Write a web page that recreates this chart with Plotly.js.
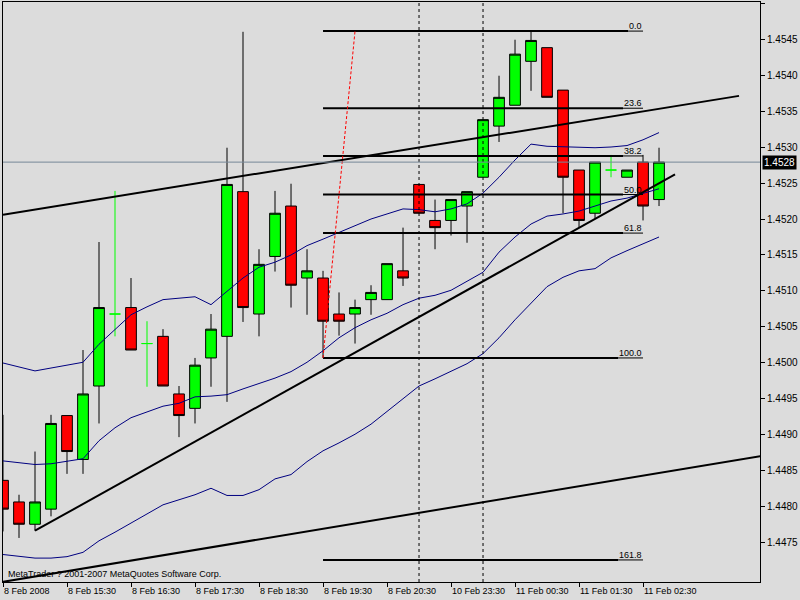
<!DOCTYPE html>
<html><head><meta charset="utf-8">
<script src="https://cdn.plot.ly/plotly-3.0.1.min.js"></script>
<style>html,body{margin:0;padding:0;background:#dcdcdc;}#chart{width:800px;height:600px;}</style>
</head><body><div id="chart"></div>
<script>
// ---- Candle data (M15), index = bar number ----
const opens  = [1.44837,1.44807,1.44776,1.44797,1.44927,1.44866,1.44968,1.45068,1.45077,1.45027,
                1.45037,1.44957,1.44937,1.45007,1.45037,1.45238,1.45068,1.45148,1.45218,1.45118,
                1.45118,1.45068,1.45068,1.45088,1.45088,1.45128,1.45248,1.45198,1.45198,1.45218,
                1.45258,1.45329,1.45358,1.45419,1.45438,1.45379,1.45268,1.45208,1.45268,1.45258,
                1.45279,1.45227];
const highs  = [1.44928,1.44817,1.44877,1.44928,1.44927,1.45018,1.45168,1.45239,1.45118,1.45058,
                1.45047,1.44968,1.45007,1.45068,1.45299,1.45460,1.45158,1.45239,1.45249,1.45158,
                1.45128,1.45098,1.45088,1.45108,1.45138,1.45188,1.45248,1.45227,1.45227,1.45238,
                1.45338,1.45399,1.45449,1.45461,1.45438,1.45379,1.45268,1.45279,1.45289,1.45268,
                1.45289,1.45299];
const lows   = [1.44766,1.44757,1.44767,1.44787,1.44846,1.44846,1.44916,1.45037,1.45018,1.44967,
                1.44968,1.44897,1.44916,1.44967,1.44946,1.45057,1.45037,1.45127,1.45077,1.45067,
                1.45007,1.45038,1.45027,1.45067,1.45088,1.45107,1.45208,1.45158,1.45177,1.45167,
                1.45258,1.45307,1.45358,1.45378,1.45369,1.45208,1.45188,1.45201,1.45258,1.45258,
                1.45198,1.45218];
const closes = [1.44797,1.44776,1.44807,1.44916,1.44877,1.44957,1.45077,1.45068,1.45018,1.45027,
                1.44968,1.44927,1.44997,1.45047,1.45248,1.45077,1.45137,1.45208,1.45108,1.45128,
                1.45058,1.45058,1.45077,1.45098,1.45138,1.45118,1.45208,1.45188,1.45227,1.45238,
                1.45338,1.45369,1.45429,1.45448,1.45369,1.45258,1.45198,1.45279,1.45268,1.45268,
                1.45218,1.45279];

// ---- Bollinger Bands ----
const bbUpper = [1.45000,1.44994,1.44989,1.44993,1.44997,1.45001,1.45026,1.45047,1.45067,1.45078,
                 1.45088,1.45090,1.45092,1.45081,1.45099,1.45118,1.45133,1.45140,1.45150,1.45163,
                 1.45172,1.45181,1.45190,1.45200,1.45207,1.45214,1.45213,1.45210,1.45214,1.45221,
                 1.45236,1.45258,1.45282,1.45304,1.45301,1.45300,1.45300,1.45299,1.45300,1.45302,
                 1.45310,1.45320];
const bbMiddle = [1.44864,1.44861,1.44859,1.44860,1.44863,1.44867,1.44892,1.44910,1.44924,1.44932,
                  1.44940,1.44944,1.44953,1.44954,1.44956,1.44964,1.44971,1.44979,1.44988,1.45001,
                  1.45017,1.45035,1.45049,1.45060,1.45069,1.45081,1.45090,1.45094,1.45101,1.45113,
                  1.45126,1.45154,1.45175,1.45193,1.45204,1.45207,1.45211,1.45218,1.45225,1.45229,
                  1.45236,1.45242];
const bbLower = [1.44734,1.44731,1.44729,1.44729,1.44731,1.44737,1.44753,1.44765,1.44778,1.44790,
                 1.44803,1.44810,1.44817,1.44826,1.44816,1.44816,1.44824,1.44839,1.44845,1.44863,
                 1.44878,1.44889,1.44901,1.44915,1.44933,1.44951,1.44968,1.44978,1.44988,1.44999,
                 1.45013,1.45035,1.45060,1.45083,1.45106,1.45119,1.45128,1.45131,1.45146,1.45156,
                 1.45165,1.45175];

// ---- Axis ticks ----
const xTickIdx  = [0,4,8,12,16,20,24,28,32,36,40];
const xTickText = ["8 Feb 2008","8 Feb 15:30","8 Feb 16:30","8 Feb 17:30","8 Feb 18:30","8 Feb 19:30",
                   "8 Feb 20:30","10 Feb 23:30","11 Feb 00:30","11 Feb 01:30","11 Feb 02:30"];
const yTicks = [1.4475,1.4480,1.4485,1.4490,1.4495,1.4500,1.4505,1.4510,1.4515,1.4520,
                1.4525,1.4530,1.4535,1.4540,1.4545,1.4550];

// ---- Drawn objects ----
const separatorIdx = [26,30];
const fibLevels = [0.0,23.6,38.2,50.0,61.8,100.0,161.8];
const fibLowIdx = 20, fibHighIdx = 22, fibEndIdx = 40;
const fibHigh = highs[33], fibLow = lows[20];
const upperChannelIdx = [0,46],  upperChannelPrice = [1.45206,1.45371];
const supportIdx      = [2,42],  supportPrice      = [1.44767,1.45262];
const lowerChannelIdx = [0,48],  lowerChannelPrice = [1.44696,1.44873];
const copyright = "MetaTrader ? 2001-2007 MetaQuotes Software Corp.";

const N = closes.length;
const idx = Array.from({length:N},(_,i)=>i);
const isDoji = idx.map(i=>opens[i]===closes[i]);
const pick = (arr,want)=>idx.filter(i=>isDoji[i]===want).map(i=>arr[i]);

const traces = [
  {type:'scatter',mode:'lines',x:idx,y:bbUpper,line:{color:'#000080',width:1},hoverinfo:'skip'},
  {type:'scatter',mode:'lines',x:idx,y:bbMiddle,line:{color:'#000080',width:1},hoverinfo:'skip'},
  {type:'scatter',mode:'lines',x:idx,y:bbLower,line:{color:'#000080',width:1},hoverinfo:'skip'},
  {type:'candlestick',x:pick(idx,false),open:pick(opens,false),high:pick(highs,false),
   low:pick(lows,false),close:pick(closes,false),whiskerwidth:0,
   increasing:{fillcolor:'#00ff00',line:{color:'#000000',width:1}},
   decreasing:{fillcolor:'#ff0000',line:{color:'#000000',width:1}},hoverinfo:'skip'},
  {type:'candlestick',x:pick(idx,true),open:pick(opens,true),high:pick(highs,true),
   low:pick(lows,true),close:pick(closes,true),whiskerwidth:0,
   increasing:{fillcolor:'#00ff00',line:{color:'#00ff00',width:1}},
   decreasing:{fillcolor:'#00ff00',line:{color:'#00ff00',width:1}},hoverinfo:'skip'}
];

const shapes = [];
const annotations = [];
const fnt = {family:'Liberation Sans, Arial, sans-serif',size:9,color:'#000'};

// period separators
separatorIdx.forEach(s=>shapes.push({type:'line',xref:'x',yref:'paper',x0:s,x1:s,y0:0,y1:1,
  line:{color:'#000',width:1,dash:'3px,3px'},layer:'above'}));

// fibonacci
const lastPrice = closes[N-1];
fibLevels.forEach(L=>{
  const p = fibHigh-(fibHigh-fibLow)*L/100;
  const txt = L.toFixed(1);
  const thinIdx = (5*txt.length)/16;
  shapes.push({type:'line',xref:'x',yref:'y',x0:fibLowIdx,x1:fibEndIdx-thinIdx,y0:p,y1:p,
    line:{color:'#000',width:2},layer:'above'});
  shapes.push({type:'line',xref:'x',yref:'y',x0:fibEndIdx-thinIdx,x1:fibEndIdx,y0:p,y1:p,
    line:{color:'#000',width:1},layer:'above'});
  annotations.push({xref:'x',yref:'y',x:fibEndIdx,y:p,xanchor:'right',yanchor:'bottom',
    text:txt,showarrow:false,font:fnt,borderpad:0,yshift:-1});
});
shapes.push({type:'line',xref:'x',yref:'y',x0:fibLowIdx,x1:fibHighIdx,y0:fibLow,y1:fibHigh,
  line:{color:'#ff0000',width:1,dash:'3px,2px'},layer:'above'});

// trendlines
[[upperChannelIdx,upperChannelPrice],[supportIdx,supportPrice],[lowerChannelIdx,lowerChannelPrice]]
 .forEach(([xi,pi])=>shapes.push({type:'line',xref:'x',yref:'y',x0:xi[0],x1:xi[1],y0:pi[0],y1:pi[1],
   line:{color:'#000',width:2},layer:'above'}));

// last price line
shapes.push({type:'line',xref:'paper',yref:'y',x0:0,x1:1,y0:lastPrice,y1:lastPrice,
  line:{color:'#778899',width:1},layer:'above'});
annotations.push({xref:'paper',yref:'y',x:1,y:lastPrice,xanchor:'left',yanchor:'middle',xshift:2,
  text:lastPrice.toFixed(4),showarrow:false,bgcolor:'#000',borderpad:1,
  font:{family:fnt.family,size:10,color:'#fff'}});
annotations.push({xref:'paper',yref:'paper',x:0,y:0,xanchor:'left',yanchor:'bottom',xshift:3,yshift:1,
  text:copyright,showarrow:false,font:fnt});

const layout = {
  width:800,height:600,
  margin:{l:3,r:40,t:2,b:18,pad:0},
  paper_bgcolor:'#dcdcdc',plot_bgcolor:'#dcdcdc',
  showlegend:false,boxgap:0.33,boxgroupgap:0,
  xaxis:{range:[0,47.31],showgrid:false,zeroline:false,showline:true,mirror:true,
    linecolor:'#000',linewidth:1,ticks:'outside',ticklen:4,tickcolor:'#000',
    tickmode:'array',tickvals:xTickIdx,ticktext:xTickText,ticklabelposition:'outside right',
    tickfont:fnt,rangeslider:{visible:false},fixedrange:true},
  yaxis:{side:'right',range:[1.446958,1.455014],showgrid:false,zeroline:false,showline:true,
    mirror:true,linecolor:'#000',linewidth:1,ticks:'outside',ticklen:4,tickcolor:'#000',
    tickmode:'array',tickvals:yTicks,ticktext:yTicks.map(v=>v.toFixed(4)),
    tickfont:{family:fnt.family,size:10,color:'#000'},fixedrange:true},
  shapes:shapes,annotations:annotations
};
Plotly.newPlot('chart',traces,layout,{staticPlot:true,displayModeBar:false});
</script></body></html>
